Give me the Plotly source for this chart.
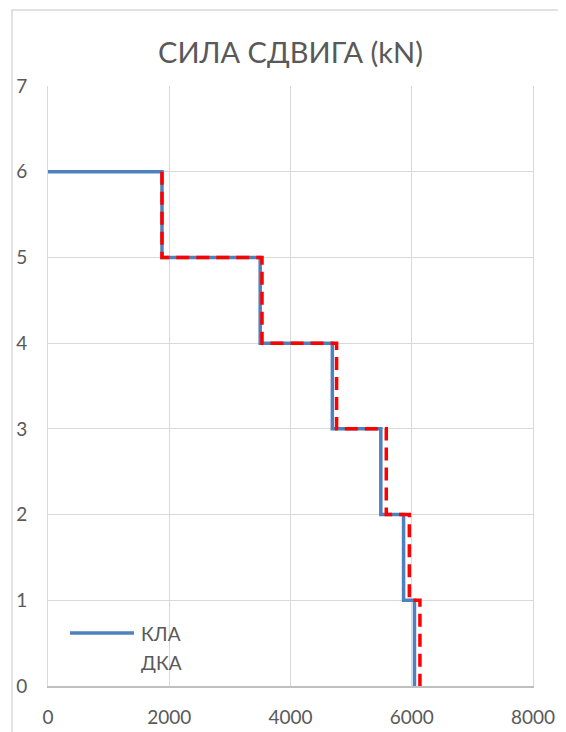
import plotly.graph_objects as go

# storey levels (top to bottom) and storey shear, kN
levels = [6, 5, 4, 3, 2, 1, 0]
kla_shear = [1880, 3500, 4690, 5490, 5865, 6045]
dka_shear = [1880, 3530, 4760, 5580, 5960, 6135]


def steps(shear, start_x):
    xs, ys = [start_x], [levels[0]]
    for i, v in enumerate(shear):
        xs += [v, v]
        ys += [levels[i], levels[i + 1]]
    return xs, ys


kla_x, kla_y = steps(kla_shear, 0)
dka_x, dka_y = steps(dka_shear, dka_shear[0])

txt = '#595959'
blue = '#4F81BD'
red = '#FF0000'

# page has an 8px body margin, so the figure is 8px smaller than the window
W, H = 558, 724
L, T = 40, 78
PW, PH = 485, 600

fig = go.Figure()
fig.add_trace(go.Scatter(x=kla_x, y=kla_y, mode='lines', name='КЛА',
                         line=dict(color=blue, width=3.5), showlegend=False))
fig.add_trace(go.Scatter(x=dka_x, y=dka_y, mode='lines', name='ДКА',
                         line=dict(color=red, width=3.5, dash='13px,7px'),
                         showlegend=False))

# legend drawn by hand (Excel-like long sample line, no sample for ДКА)
fig.add_shape(type='line', xref='paper', yref='paper',
              x0=22 / PW, x1=86 / PW,
              y0=53 / PH, y1=53 / PH,
              line=dict(color=blue, width=3.5))
for name, py in [('КЛА', 53), ('ДКА', 24)]:
    fig.add_annotation(text=name, xref='paper', yref='paper',
                       x=91 / PW, y=py / PH,
                       xanchor='left', yanchor='middle', showarrow=False,
                       font=dict(size=19, color=txt))

# chart area border
fig.add_shape(type='rect', xref='paper', yref='paper',
              x0=-36 / PW, x1=517 / PW,
              y0=-0.2, y1=676 / PH,
              line=dict(color='#d9d9d9', width=1.5), layer='below')

fig.update_layout(
    width=W, height=H,
    margin=dict(l=L, r=W - L - PW, t=T, b=H - T - PH),
    paper_bgcolor='white', plot_bgcolor='white',
    font=dict(family='Lato, Open Sans, sans-serif', color=txt, size=19),
    title=dict(text='СИЛА СДВИГА (kN)', x=(L + PW / 2) / W, xanchor='center',
               y=1 - 45 / H, yanchor='middle',
               font=dict(size=29, color=txt)),
    xaxis=dict(range=[0, 8000], dtick=2000, showgrid=True, gridcolor='#d9d9d9',
               zeroline=False, showline=True, linecolor='#bfbfbf', linewidth=1.5,
               ticks='outside', ticklen=13, tickcolor='rgba(0,0,0,0)',
               tickfont=dict(size=19, color=txt), automargin=False),
    yaxis=dict(range=[0, 7], dtick=1, showgrid=True, gridcolor='#d9d9d9',
               zeroline=False, showline=True, mirror=True, linecolor='#d9d9d9',
               ticks='outside', ticklen=16, tickcolor='rgba(0,0,0,0)',
               tickfont=dict(size=19, color=txt), automargin=False),
    showlegend=False,
)

fig.write_html('out.html')
